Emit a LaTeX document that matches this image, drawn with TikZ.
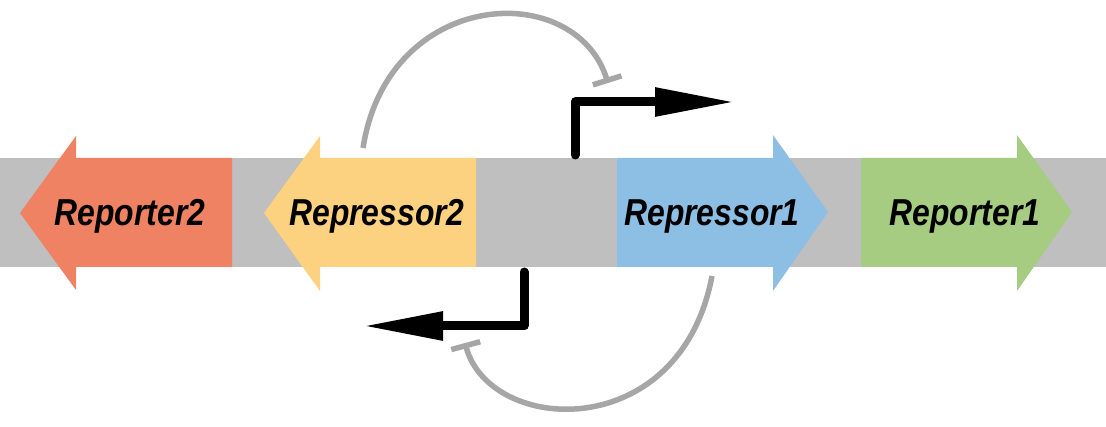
\documentclass[tikz,border=0pt]{standalone}
\usepackage{fontspec}
\newfontfamily\genefont[FakeStretch=0.85]{Liberation Sans}
\usetikzlibrary{arrows.meta}
\definecolor{barGray}{RGB}{191,191,191}
\definecolor{arcGray}{RGB}{166,166,166}
\definecolor{repOrange}{RGB}{238,130,98}
\definecolor{repYellow}{RGB}{252,210,128}
\definecolor{repBlue}{RGB}{141,190,227}
\definecolor{repGreen}{RGB}{166,204,130}
\tikzset{
  genelabel/.style={anchor=base, inner sep=0pt, font=\genefont\bfseries\itshape\fontsize{37.5}{40}\selectfont},
  promoter/.style={line width=9pt, line cap=round, line join=round, -{Triangle[length=80pt 0 0, width=27pt 0 0]}},
  repress/.style={draw=arcGray, line width=5.5pt, -{Bar[width=30pt 0 0]}},
}
\begin{document}
\begin{tikzpicture}[x=1pt,y=-1pt]
\useasboundingbox (0,0) rectangle (1106,427);
% backbone
\fill[barGray] (0,158) rectangle (1106,267);
% genes
\fill[repOrange] (232,158) -- (76,158) -- (76,136) -- (20,213) -- (76,290) -- (76,267) -- (232,267) -- cycle;
\fill[repYellow] (476,158) -- (320,158) -- (320,136) -- (264,213) -- (320,291) -- (320,267) -- (476,267) -- cycle;
\fill[repBlue] (617,158) -- (773,158) -- (773,135) -- (828,212) -- (773,291) -- (773,267) -- (617,267) -- cycle;
\fill[repGreen] (861,158) -- (1017,158) -- (1017,135) -- (1072,212) -- (1017,291) -- (1017,267) -- (861,267) -- cycle;
% labels
\node[genelabel] (reporter2) at (130,226) {Reporter2};
\node[genelabel] (repressor2) at (377,226) {Repressor2};
\node[genelabel] (repressor1) at (712,226) {Repressor1};
\node[genelabel] (reporter1) at (965,226) {Reporter1};
% promoters
\coordinate (p1) at (575,155);
\coordinate (p1tip) at (735,102);
\coordinate (p2) at (524,272);
\coordinate (p2tip) at (363,326);
\draw[promoter] (p1) |- (p1tip);
\draw[promoter] (p2) |- (p2tip);
% repression arcs
\coordinate (r2out) at (363,148);
\coordinate (p1bar) at (608,83);
\coordinate (r1out) at (712,276);
\coordinate (p2bar) at (465,343);
\draw[repress] (r2out) .. controls (388,-12) and (575,-22) .. (p1bar);
\draw[repress] (r1out) .. controls (680,445) and (490,435) .. (p2bar);
\end{tikzpicture}
\end{document}
